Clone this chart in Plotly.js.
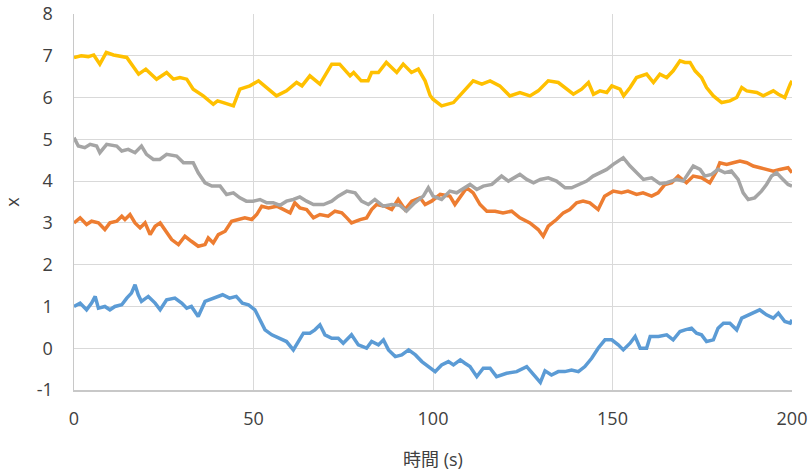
<!DOCTYPE html>
<html>
<head>
<meta charset="utf-8">
<script src="https://cdn.plot.ly/plotly-3.0.1.min.js"></script>
<style>html,body{margin:0;padding:0;background:#fff;}#chart{width:812px;height:475px;}</style>
</head>
<body>
<div id="chart"></div>
<script>
// Series 1 (blue)
const tBlue = [0,1.7,3.5,4.9,5.9,6.8,8.6,10,11.4,13.3,14.7,16,17,17.9,18.8,20.7,22.6,24,25.8,28.1,30,31.4,32.7,34.6,36.5,38.8,40.1,41.4,43.3,45.2,46.9,48.6,50.4,51.8,53.2,55.1,57.4,59.2,61.1,62.5,63.9,65.7,67.1,68.5,69.9,71.8,73.6,75,77.3,79.2,81.5,82.9,84.8,86.2,87.6,89.5,91.3,93.2,95.1,96.9,98.7,100.6,102.4,104.3,105.7,107.6,108.9,110.3,112.2,114,115.9,117.7,120.5,123.3,126.1,128.4,129.9,131.2,133,134.9,136.7,138.6,140.5,142.3,144.2,146,147.9,149.8,151.6,153,154.9,156.3,157.7,159.5,160.5,162.8,165.1,166.9,168.8,170.2,172,173.4,174.8,176.2,178.1,179.4,180.9,182.7,184.6,186,187.8,189.2,191,192.9,194.8,196.2,198,199.5,200];
const vBlue = [1.0,1.08,0.92,1.08,1.24,0.96,1.0,0.92,1.0,1.04,1.2,1.32,1.52,1.28,1.12,1.24,1.08,0.92,1.16,1.2,1.08,0.96,1.0,0.76,1.12,1.2,1.24,1.28,1.2,1.24,1.08,1.04,0.92,0.68,0.44,0.32,0.24,0.16,-0.04,0.16,0.36,0.36,0.44,0.56,0.32,0.24,0.24,0.12,0.32,0.08,0.0,0.16,0.08,0.2,-0.04,-0.2,-0.16,-0.04,-0.16,-0.32,-0.44,-0.56,-0.4,-0.32,-0.4,-0.28,-0.36,-0.44,-0.68,-0.48,-0.48,-0.68,-0.6,-0.56,-0.44,-0.68,-0.82,-0.54,-0.64,-0.56,-0.56,-0.52,-0.56,-0.44,-0.24,0.0,0.2,0.2,0.08,-0.04,0.12,0.28,0.0,0.0,0.28,0.28,0.32,0.2,0.4,0.44,0.48,0.36,0.32,0.16,0.2,0.48,0.6,0.6,0.44,0.72,0.8,0.84,0.92,0.8,0.72,0.84,0.64,0.6,0.68];

// Series 2 (orange)
const tOrange = [0,1.7,3.5,4.9,6.8,8.6,10,11.9,13.3,14.2,15.6,17,18.4,19.8,21.2,22.6,24,25.3,27.2,29.1,30.9,32.7,34.6,36.5,37.4,38.8,40.2,42.1,43.9,45.8,47.6,49.5,50.9,52.3,54.2,56.5,58.3,60.2,61.5,62.9,64.8,66.7,68.5,70.8,72.7,74.6,76,77.3,79.7,81.5,82.9,84.3,86.6,88.5,90.3,92.2,94.1,96.4,97.8,99.6,102,104.7,106.1,107.5,109.4,111.2,113.1,115,117.3,119.5,121.9,124.2,127,129.3,130.7,132.1,134.4,136.3,138.1,140,141.8,143.7,146,147.8,150.2,152.5,154.3,156.7,158.5,160.9,162.7,164.6,166.5,168.3,170.6,172.5,174.8,177.1,179,179.9,181.8,183.6,185.5,187.4,189.2,191.1,192.9,194.8,196.6,198.9,200];
const vOrange = [3.0,3.12,2.96,3.04,3.0,2.84,3.0,3.04,3.16,3.08,3.2,3.0,2.88,3.0,2.72,2.92,3.0,2.84,2.6,2.48,2.68,2.56,2.44,2.48,2.64,2.52,2.72,2.8,3.04,3.08,3.12,3.08,3.2,3.4,3.36,3.4,3.32,3.24,3.48,3.36,3.32,3.12,3.2,3.16,3.28,3.24,3.12,3.0,3.08,3.12,3.32,3.44,3.4,3.32,3.56,3.32,3.52,3.6,3.44,3.52,3.68,3.64,3.44,3.6,3.84,3.72,3.44,3.28,3.28,3.24,3.28,3.12,3.0,2.84,2.68,2.92,3.08,3.24,3.32,3.48,3.52,3.48,3.32,3.64,3.76,3.72,3.76,3.68,3.72,3.64,3.72,3.92,3.96,4.12,3.96,4.12,4.08,3.96,4.24,4.44,4.4,4.44,4.48,4.44,4.36,4.32,4.28,4.24,4.28,4.32,4.2];

// Series 3 (gray)
const tGray = [0,1.2,3,4.5,6.3,7.2,9.1,11.9,13.3,15.1,17,18.8,20.2,22.1,23.9,25.8,28.6,30.5,32.3,33.2,34.6,36.5,38.4,40.7,42.5,44.4,46.2,48,49.9,51.8,53.7,55.5,57.4,59.2,61.1,62.9,64.8,66.7,69.5,71.8,73.6,76,78.3,80.1,82,83.8,86.1,88.5,90.8,92.6,94.9,97.3,98.7,100,102.4,104.7,106.6,108.6,110.3,112.2,114,116.4,119.1,121,122.4,124.2,126.1,128,129.9,132.1,134.4,136.8,138.6,140.9,142.8,144.6,146.5,148.4,150.2,153,154.9,156.7,158.6,160.9,163.2,165.1,167.9,169.7,172.5,174.4,175.7,177.6,179.4,181.3,183.1,185,186.4,187.8,189.6,191.5,192.9,194.3,195.7,197.5,198.9,200];
const vGray = [5.04,4.84,4.8,4.88,4.84,4.68,4.88,4.84,4.72,4.76,4.68,4.84,4.64,4.52,4.52,4.64,4.6,4.44,4.44,4.44,4.2,3.96,3.88,3.88,3.68,3.72,3.6,3.52,3.52,3.56,3.48,3.48,3.42,3.52,3.56,3.62,3.52,3.44,3.44,3.52,3.64,3.76,3.72,3.52,3.44,3.56,3.4,3.44,3.42,3.28,3.48,3.64,3.84,3.64,3.56,3.76,3.72,3.84,3.92,3.8,3.88,3.92,4.12,4.0,4.08,4.16,4.04,3.96,4.04,4.08,4.0,3.84,3.84,3.92,4.0,4.12,4.2,4.28,4.4,4.56,4.36,4.2,4.04,4.08,3.94,3.96,4.04,4.0,4.36,4.28,4.12,4.16,4.28,4.2,4.24,4.04,3.72,3.56,3.6,3.76,3.92,4.12,4.2,4.04,3.92,3.88];

// Series 4 (yellow)
const tYellow = [0,2,4,5.5,7.2,9,11,12.8,14.7,15.6,18,20,21.5,23,25.8,27.7,29.5,31.4,33.2,36,38.8,40,41.6,43,44.4,46.2,49,51.4,53.7,56.4,59.2,62,63.5,65.7,68.5,71.8,74,76.9,77.9,80,81.9,82.9,84.8,87,89.9,91.7,94,95.9,97.8,99.2,100,102.4,105.7,108.6,111.2,113.6,115.9,118.6,121.4,124.2,127,129.3,132.1,134.9,136.8,139.1,141.4,143.3,144.7,146.5,148.4,149.8,152.1,153.1,154.9,156.7,159.5,161.4,163.2,165.1,166.9,168.8,170.2,171.6,173,174.8,176.2,178.1,180.4,182.7,184.6,186,187.4,190.2,192,194.8,196.2,198,199.5,200];
const vYellow = [6.96,7.0,6.98,7.02,6.8,7.08,7.02,7.0,6.96,6.85,6.56,6.68,6.55,6.44,6.6,6.44,6.48,6.44,6.2,6.04,5.84,5.92,5.88,5.84,5.8,6.2,6.28,6.4,6.24,6.04,6.16,6.36,6.28,6.52,6.32,6.8,6.8,6.52,6.6,6.4,6.4,6.6,6.6,6.84,6.6,6.8,6.6,6.68,6.4,6.05,5.96,5.8,5.88,6.16,6.4,6.32,6.4,6.28,6.04,6.12,6.04,6.16,6.4,6.36,6.24,6.08,6.2,6.36,6.08,6.16,6.12,6.28,6.2,6.04,6.24,6.48,6.56,6.36,6.56,6.48,6.64,6.88,6.84,6.84,6.64,6.48,6.24,6.04,5.88,5.92,6.0,6.24,6.16,6.12,6.04,6.16,6.08,6.0,6.32,6.4];

const xTickVals = [0,50,100,150,200];
const yTickVals = [-1,0,1,2,3,4,5,6,7,8];
const xTitle = '時間 (s)';
const yTitle = 'x';

const fontFam = '"Open Sans", "Noto Sans CJK JP", sans-serif';
const mk = (t, v, color) => ({x: t, y: v, type: 'scatter', mode: 'lines',
  line: {color: color, width: 3.5}, hoverinfo: 'skip'});

const data = [
  mk(tBlue, vBlue, '#5B9BD5'),
  mk(tOrange, vOrange, '#ED7D31'),
  mk(tGray, vGray, '#A5A5A5'),
  mk(tYellow, vYellow, '#FFC000')
];

const layout = {
  width: 812, height: 475,
  margin: {l: 74, r: 20, t: 14, b: 85, pad: 0},
  paper_bgcolor: '#ffffff', plot_bgcolor: '#ffffff',
  showlegend: false,
  font: {family: fontFam, size: 18, color: '#595959'},
  xaxis: {
    range: [0, 200], tickvals: xTickVals, ticktext: xTickVals.map(String),
    showgrid: true, gridcolor: '#D9D9D9', gridwidth: 1,
    showline: true, linecolor: '#C8C8C8', linewidth: 1.5, mirror: false,
    zeroline: false, ticks: '', ticklabelstandoff: 12,
    tickfont: {family: fontFam, size: 18, color: '#404040'},
    title: {text: xTitle, standoff: 24, font: {family: fontFam, size: 18, color: '#404040'}},
    automargin: false
  },
  yaxis: {
    range: [-1, 8], tickvals: yTickVals, ticktext: yTickVals.map(String),
    showgrid: true, gridcolor: '#D9D9D9', gridwidth: 1,
    showline: true, linecolor: '#C8C8C8', linewidth: 1.5,
    zeroline: false, ticks: '', ticklabelstandoff: 16,
    tickfont: {family: fontFam, size: 18, color: '#404040'},
    title: {text: yTitle, standoff: 23, font: {family: fontFam, size: 18, color: '#404040'}},
    automargin: false
  }
};

Plotly.newPlot('chart', data, layout, {staticPlot: true, displayModeBar: false});
</script>
</body>
</html>
